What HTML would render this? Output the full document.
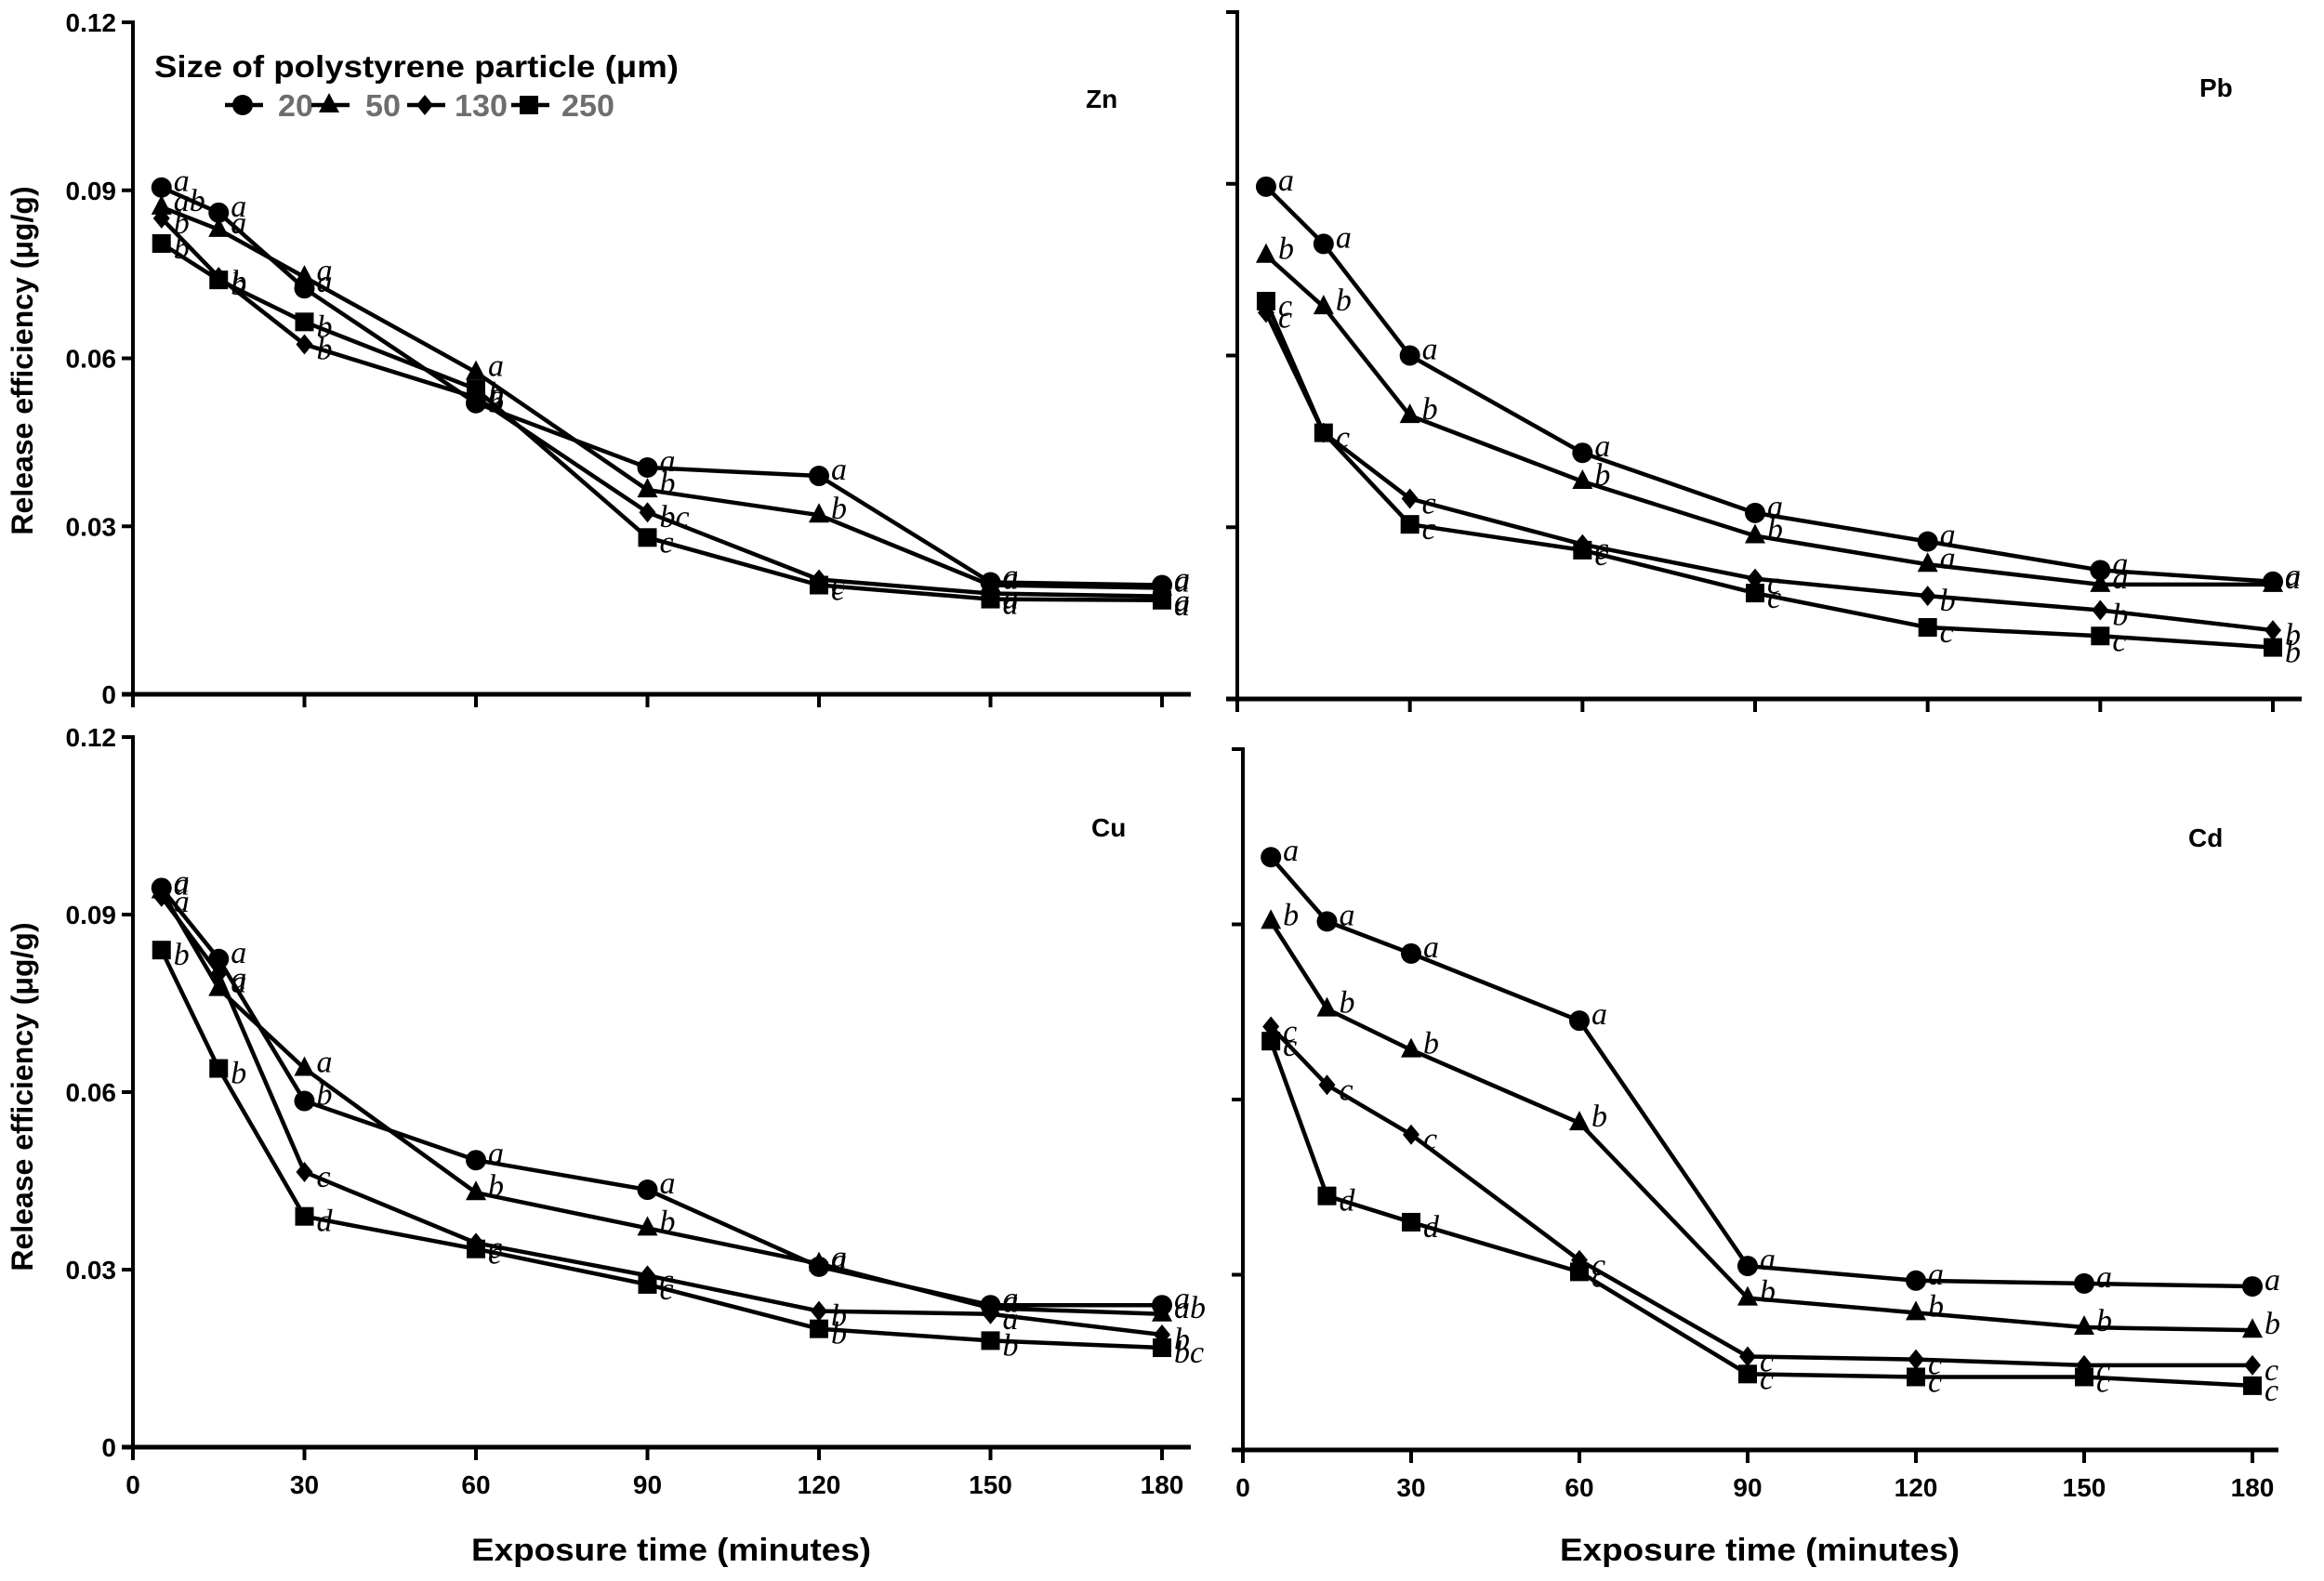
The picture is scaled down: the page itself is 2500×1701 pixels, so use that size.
<!DOCTYPE html>
<html><head><meta charset="utf-8"><style>
html,body{margin:0;padding:0;background:#fff;}
svg{display:block;}
text{font-family:"Liberation Sans",Arial,sans-serif;}
</style></head><body>
<svg id="fig" width="2500" height="1701" viewBox="0 0 2500 1701" xmlns="http://www.w3.org/2000/svg">
<rect width="2500" height="1701" fill="#fff"/>
<g id="legend">
<text x="166" y="83" font-size="33" font-weight="bold" textLength="564" lengthAdjust="spacingAndGlyphs">Size of polystyrene particle (μm)</text>
</g>
</svg>
<script>
const times = [5, 15, 30, 60, 90, 120, 150, 180];
const seriesNames = ["20", "50", "130", "250"];
const xTickLabels = [0, 30, 60, 90, 120, 150, 180];
const yTickLabels = [0, 0.03, 0.06, 0.09, 0.12];
const yTickText = ["0", "0.03", "0.06", "0.09", "0.12"];

const znS20 = [0.0905, 0.086, 0.0725, 0.052, 0.0405, 0.039, 0.020, 0.0195];
const znS50 = [0.087, 0.083, 0.0745, 0.0575, 0.0365, 0.032, 0.0195, 0.019];
const znS130 = [0.085, 0.0745, 0.0625, 0.053, 0.0325, 0.0205, 0.018, 0.0175];
const znS250 = [0.0805, 0.074, 0.0665, 0.0545, 0.028, 0.0195, 0.017, 0.0168];
const znLetters = [["a","a","a","a","a","a","a","a"],["ab","a","a","a","b","b","a","a"],["b","b","b","b","bc","c","a","a"],["b","b","b","b","c","c","a","a"]];

const pbS20 = [0.0895, 0.0795, 0.0600, 0.043, 0.0325, 0.0275, 0.0225, 0.0205];
const pbS50 = [0.0775, 0.0685, 0.0495, 0.038, 0.0285, 0.0235, 0.020, 0.020];
const pbS130 = [0.0675, 0.0465, 0.035, 0.027, 0.021, 0.018, 0.0155, 0.012];
const pbS250 = [0.0695, 0.0465, 0.0305, 0.026, 0.0185, 0.0125, 0.011, 0.009];
const pbLetters = [["a","a","a","a","a","a","a","a"],["b","b","b","b","b","a","a","a"],["c","c","c","c","c","b","b","b"],["c","c","c","c","c","c","c","b"]];

const cuS20 = [0.0945, 0.0825, 0.0585, 0.0485, 0.0435, 0.0305, 0.024, 0.024];
const cuS50 = [0.094, 0.0775, 0.064, 0.043, 0.037, 0.031, 0.0235, 0.0225];
const cuS130 = [0.093, 0.080, 0.0465, 0.0345, 0.029, 0.023, 0.0225, 0.019];
const cuS250 = [0.084, 0.064, 0.039, 0.0335, 0.0275, 0.020, 0.018, 0.0168];
const cuLetters = [["a","a","b","a","a","a","a","a"],["a","a","a","b","b","a","a","ab"],["a","a","c","c","c","b","a","b"],["b","b","d","c","c","b","b","bc"]];

const cdS20 = [0.1015, 0.0905, 0.0850, 0.0735, 0.0315, 0.029, 0.0285, 0.028];
const cdS50 = [0.0905, 0.0755, 0.0685, 0.0560, 0.026, 0.0235, 0.021, 0.0205];
const cdS130 = [0.0725, 0.0625, 0.054, 0.0325, 0.016, 0.0155, 0.0145, 0.0145];
const cdS250 = [0.070, 0.0435, 0.039, 0.0305, 0.013, 0.0125, 0.0125, 0.011];
const cdLetters = [["a","a","a","a","a","a","a","a"],["b","b","b","b","b","b","b","b"],["c","c","c","c","c","c","c","c"],["c","d","d","c","c","c","c","c"]];

const NS = "http://www.w3.org/2000/svg";
const svg = document.getElementById("fig");
function mk(tag, attrs, parent){ const e=document.createElementNS(NS,tag); for(const k in attrs) e.setAttribute(k, attrs[k]); (parent||svg).appendChild(e); return e; }

function marker(kind, cx, cy, parent){
  let e;
  if(kind===0){ e=mk("circle",{cx:cx,cy:cy,r:11,fill:"#000"},parent); }
  else if(kind===1){ e=mk("polygon",{points:`${cx},${cy-13} ${cx+11},${cy+8} ${cx-11},${cy+8}`,fill:"#000"},parent); }
  else if(kind===2){ e=mk("polygon",{points:`${cx},${cy-11} ${cx+9},${cy} ${cx},${cy+11} ${cx-9},${cy}`,fill:"#000"},parent); }
  else { e=mk("rect",{x:cx-10,y:cy-10,width:20,height:20,fill:"#000"},parent); }
  return e;
}

function panel(cfg){
  const g = mk("g",{});
  
  
  const X = t => cfg.x0 + (t/180)*(cfg.x180-cfg.x0);
  const Y = v => cfg.y0 - (v/0.12)*(cfg.y0-cfg.y12);
  const ya = mk("line",{x1:cfg.x0,y1:cfg.y12-2,x2:cfg.x0,y2:cfg.y0+2,stroke:"#000","stroke-width":4},g);
  
  
  const xa = mk("line",{x1:cfg.x0-12,y1:cfg.y0,x2:cfg.xend,y2:cfg.y0,stroke:"#000","stroke-width":5},g);
  
  
  yTickLabels.forEach((v,i)=>{
    const y=Y(v);
    mk("line",{x1:cfg.x0-12,y1:y,x2:cfg.x0,y2:y,stroke:"#000","stroke-width":4},g);
    if(cfg.yLabels){
      const t=mk("text",{x:cfg.x0-18,y:y+10,"font-size":28,"font-weight":"bold","text-anchor":"end"},g);
      t.textContent=yTickText[i];
      
      
    }
  });
  xTickLabels.forEach(v=>{
    const x=X(v);
    mk("line",{x1:x,y1:cfg.y0,x2:x,y2:cfg.y0+14,stroke:"#000","stroke-width":4},g);
    if(cfg.xLabels){
      const t=mk("text",{x:x,y:cfg.y0+50,"font-size":28,"font-weight":"bold","text-anchor":"middle"},g);
      t.textContent=String(v);
      
      
    }
  });
  cfg.series.forEach((vals,si)=>{
    const sg = mk("g",{},g);
    
    
    const pts = vals.map((v,i)=>`${X(times[i])},${Y(v)}`).join(" ");
    const pl = mk("polyline",{points:pts,fill:"none",stroke:"#000","stroke-width":4.5,"stroke-linejoin":"round"},sg);
    
    
    vals.forEach((v,i)=>{
      const m = marker(si, X(times[i]), Y(v), sg);
      
      
      const lt = mk("text",{x:X(times[i])+13,y:Y(v)+(si<2?4:16),"font-size":34,style:"font-family:'Liberation Serif',serif;font-style:italic"},sg);
      lt.textContent = cfg.letters[si][i];
      
      
    });
  });
  const lab = mk("text",{x:cfg.lx,y:cfg.ly,"font-size":28,"font-weight":"bold"},g);
  lab.textContent = cfg.name;
  
  
}

panel({name:"Zn",x0:143,x180:1250,xend:1281,y0:747,y12:24,series:[znS20,znS50,znS130,znS250],letters:znLetters,yLabels:true,xLabels:false,lx:1168,ly:116});
panel({name:"Pb",x0:1331,x180:2445,xend:2476,y0:752,y12:13,series:[pbS20,pbS50,pbS130,pbS250],letters:pbLetters,yLabels:false,xLabels:false,lx:2366,ly:104});
panel({name:"Cu",x0:143,x180:1250,xend:1281,y0:1557,y12:793,series:[cuS20,cuS50,cuS130,cuS250],letters:cuLetters,yLabels:true,xLabels:true,lx:1174,ly:900});
panel({name:"Cd",x0:1337,x180:2423,xend:2451,y0:1560,y12:806,series:[cdS20,cdS50,cdS130,cdS250],letters:cdLetters,yLabels:false,xLabels:true,lx:2354,ly:911});

[[24,388],[24,1180]].forEach(p=>{
  const t=mk("text",{x:p[0],y:p[1],"font-size":32,"font-weight":"bold","text-anchor":"middle",transform:`rotate(-90 ${p[0]} ${p[1]}) translate(0 11)`});
  t.textContent="Release efficiency (μg/g)";
  
  
});
[[722,1679],[1893,1679]].forEach(p=>{
  const t=mk("text",{x:p[0]-215,y:p[1],"font-size":34,"font-weight":"bold",textLength:430,lengthAdjust:"spacingAndGlyphs"});
  t.textContent="Exposure time (minutes)";
  
  
});

const legendG = document.getElementById("legend");
const legMarkX = [261, 354, 457, 569];
const legTextX = [299, 393, 489, 604];
seriesNames.forEach((n,i)=>{
  const eg = mk("g",{},legendG);
  
  
  mk("line",{x1:legMarkX[i]-19,y1:113,x2:legMarkX[i]+22,y2:113,stroke:"#000","stroke-width":4.5},eg);
  marker(i, legMarkX[i], 113, eg);
  const t = mk("text",{x:legTextX[i],y:125,"font-size":33,"font-weight":"bold",fill:"#6e6e6e",textLength:n.length*19,lengthAdjust:"spacingAndGlyphs"},eg);
  t.textContent = n;
});
</script>
</body></html>
